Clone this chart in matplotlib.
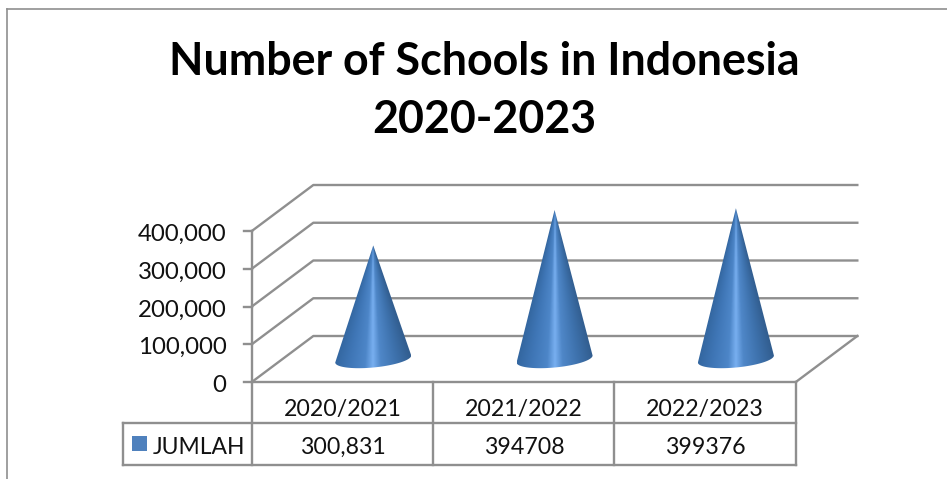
import matplotlib
matplotlib.use('Agg')
import matplotlib.pyplot as plt
import numpy as np
from matplotlib.colors import LinearSegmentedColormap
from matplotlib.patches import Polygon, Rectangle

titulo = 'Number of Schools in Indonesia\n2020-2023'
anos = ['2020/2021', '2021/2022', '2022/2023']
valores = [300831, 394708, 399376]
rotulos = ['300,831', '394708', '399376']
serie = 'JUMLAH'
ticks = [0, 100000, 200000, 300000, 400000]

W, H = 947, 479
PX_X = 181.33        # pixels por categoria
PX_Y = 37.75 / 1e5   # pixels por unidade de valor
X0, Y0 = 342.5, 382  # categoria 0 / valor 0 no plano da frente
DX = 61.5 / PX_X     # profundidade do grafico 3D
DY = 46 / PX_Y
CINZA = '#8f8f8f'
FONTE = 'Lato'

plt.rcParams['font.family'] = FONTE
cores = LinearSegmentedColormap.from_list('cone', [
    (0.0, '#33669f'), (0.2, '#3f76b6'), (0.4, '#4d86c8'), (0.5, '#78aff0'),
    (0.6, '#4f87c8'), (0.8, '#3e72ad'), (1.0, '#325e90')])


def proj(x, v, d=0.0):
    return x + d * DX, v + d * DY


def linha(xs, ys, lw=1.7, cor=CINZA, z=1):
    ax.plot(xs, ys, color=cor, lw=lw, zorder=z, solid_capstyle='projecting')


def cone(i, valor):
    # cone com brilho que converge para o vertice
    cx, base = proj(i, 0, 0.5)
    topo = proj(i, valor, 0.5)[1]
    hw = 38 / PX_X
    eh = 8.5 / PX_Y
    incl = 3.5 / PX_Y

    t = np.linspace(0, np.pi, 80)
    ex = cx + hw * np.cos(t)
    ey = base - eh * np.sin(t) + incl * np.cos(t)
    pts = np.column_stack([np.r_[cx, ex], np.r_[topo, ey]])

    gx = np.linspace(cx - hw, cx + hw, 400)
    gy = np.linspace(base - eh - incl, topo, 400)
    xx, yy = np.meshgrid(gx, gy)
    larg = hw * np.maximum(topo - yy, 1) / (topo - base)
    u = np.clip((xx - cx) / larg, -1, 1)
    im = ax.imshow((u + 1) / 2, cmap=cores, vmin=0, vmax=1, origin='lower',
                   extent=[gx[0], gx[-1], gy[0], gy[-1]], aspect='auto',
                   interpolation='bilinear', zorder=3)
    clip = Polygon(pts, closed=True, transform=ax.transData, fc='none', ec='none')
    ax.add_patch(clip)
    im.set_clip_path(clip)


fig = plt.figure(figsize=(W / 100, H / 100), dpi=100)
ax = fig.add_axes([0, 0, 1, 1])
ax.axis('off')
ax.set_xlim(-X0 / PX_X, (W - X0) / PX_X)
ax.set_ylim((Y0 - H) / PX_Y, Y0 / PX_Y)
ax.autoscale(False)

esq, dir_ = -0.5, len(anos) - 0.5

# moldura externa
moldura_x = -(X0 - 6.5) / PX_X
moldura_y = (Y0 - 8.5) / PX_Y
linha([moldura_x, moldura_x], [ax.get_ylim()[0], moldura_y], lw=1.2)
linha([moldura_x, ax.get_xlim()[1]], [moldura_y, moldura_y], lw=1.2)

ax.text((484 - X0) / PX_X, (Y0 - 91) / PX_Y, titulo, ha='center', va='center',
        fontsize=32.2, fontweight='bold', color='black', linespacing=1.47)

# grade nas paredes e marcas do eixo
for v in ticks:
    fx, fy = proj(esq, v)
    bx, by = proj(esq, v, 1)
    ex, ey = proj(dir_, v, 1)
    linha([fx, bx, ex], [fy, by, ey])
    linha([fx - 8 / PX_X, fx], [fy, fy])
    ax.text(fx - 25.5 / PX_X, fy - 1.5 / PX_Y, f'{v:,}', ha='right', va='center_baseline',
            fontsize=17.3, color='#111111')
linha(*zip(proj(esq, ticks[0]), proj(esq, ticks[-1])))

# chao
linha(*zip(proj(dir_, 0), proj(dir_, 0, 1)))

for i, v in enumerate(valores):
    cone(i, v)

# tabela de dados
lin1 = Y0 - 423
lin2 = Y0 - 465
leg = (123 - X0) / PX_X
linha([esq, dir_], [0, 0])
linha([leg, dir_], [lin1 / PX_Y, lin1 / PX_Y])
linha([leg, dir_], [lin2 / PX_Y, lin2 / PX_Y])
linha([leg, leg], [lin1 / PX_Y, lin2 / PX_Y])
for k in range(len(anos) + 1):
    linha([esq + k, esq + k], [0, lin2 / PX_Y])

for i, (a, r) in enumerate(zip(anos, rotulos)):
    ax.text(i, (Y0 - 407.5) / PX_Y, a, ha='center', va='center_baseline', fontsize=16.7, color='#111111')
    ax.text(i, (Y0 - 445.5) / PX_Y, r, ha='center', va='center_baseline', fontsize=16.7, color='#111111')

ax.add_patch(Rectangle(((132 - X0) / PX_X, (Y0 - 451) / PX_Y), 15 / PX_X, 15 / PX_Y,
                       fc='#4f81bd', ec='none', zorder=3))
ax.text((153 - X0) / PX_X, (Y0 - 445.5) / PX_Y, serie, ha='left', va='center_baseline',
        fontsize=16.5, color='#111111')

fig.savefig('out.png', dpi=100)
